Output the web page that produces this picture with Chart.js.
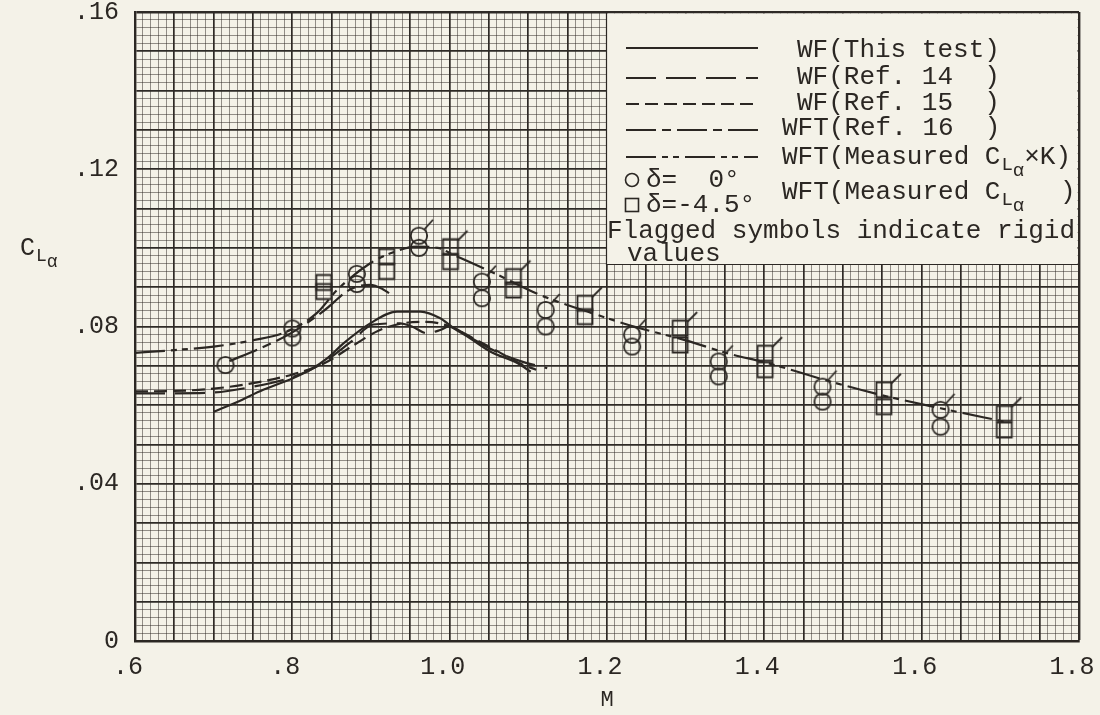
<!DOCTYPE html>
<html>
<head>
<meta charset="utf-8">
<title>CLa vs M</title>
<script src="https://cdn.jsdelivr.net/npm/chart.js@4.4.1/dist/chart.umd.min.js"></script>
<style>
  html, body { margin: 0; padding: 0; background: #f4f2e8; }
  #wrap { width: 1100px; height: 715px; }
</style>
</head>
<body>
<div id="wrap"><canvas id="myChart" width="1100" height="715"></canvas></div>
<script>
// curves: Mach number and CL_alpha
var thisTestM  = [0.700, 0.730, 0.763, 0.800, 0.823, 0.845, 0.865, 0.899, 0.933, 0.963, 0.988, 1.005, 1.026, 1.052, 1.086, 1.103];
var thisTestCL = [0.0583, 0.0608, 0.0639, 0.0668, 0.0690, 0.0720, 0.0757, 0.0808, 0.0838, 0.0838, 0.0821, 0.0796, 0.0770, 0.0736, 0.0707, 0.0685];

var ref14M  = [0.600, 0.650, 0.700, 0.745, 0.790, 0.831, 0.874, 0.903, 0.937, 0.952, 0.971, 0.988, 0.999, 1.026, 1.055, 1.090, 1.124];
var ref14CL = [0.0630, 0.0630, 0.0632, 0.0645, 0.0665, 0.0698, 0.0760, 0.0805, 0.0808, 0.0800, 0.0783, 0.0791, 0.0800, 0.0772, 0.0740, 0.0712, 0.0694];

var ref15M  = [0.600, 0.650, 0.700, 0.750, 0.800, 0.840, 0.880, 0.910, 0.940, 0.970, 1.000, 1.030, 1.060, 1.090, 1.110];
var ref15CL = [0.0635, 0.0636, 0.0642, 0.0656, 0.0678, 0.0706, 0.0755, 0.0790, 0.0808, 0.0812, 0.0800, 0.0770, 0.0738, 0.0705, 0.0690];

var ref16M  = [0.720, 0.760, 0.800, 0.840, 0.874, 0.899, 0.915, 0.929];
var ref16CL = [0.0712, 0.0745, 0.0785, 0.0840, 0.0895, 0.0906, 0.0895, 0.0876];

var measKM  = [0.600, 0.650, 0.700, 0.750, 0.793, 0.831, 0.857, 0.899, 0.930, 0.958, 0.985, 1.005, 1.052, 1.120, 1.175, 1.234, 1.298, 1.353, 1.404, 1.484, 1.548, 1.624, 1.705];
var measKCL = [0.0733, 0.0740, 0.0749, 0.0765, 0.0787, 0.0834, 0.0893, 0.0961, 0.0990, 0.1003, 0.1000, 0.0982, 0.0940, 0.0876, 0.0838, 0.0800, 0.0766, 0.0732, 0.0707, 0.0660, 0.0626, 0.0592, 0.0558];

// test points, delta = 0 deg (circles) and delta = -4.5 deg (squares)
var circleM        = [0.715, 0.800, 0.882, 0.961, 1.041, 1.122, 1.232, 1.342, 1.474, 1.624];
var circleMeasured = [0.0702, 0.0772, 0.0908, 0.1000, 0.0872, 0.0800, 0.0749, 0.0673, 0.0609, 0.0545];
var circleRigid    = [null, 0.0795, 0.0934, 0.1031, 0.0914, 0.0842, 0.0779, 0.0711, 0.0647, 0.0588];

var squareM        = [0.840, 0.920, 1.001, 1.081, 1.172, 1.293, 1.401, 1.552, 1.705];
var squareMeasured = [0.0889, 0.0940, 0.0965, 0.0893, 0.0825, 0.0753, 0.0690, 0.0596, 0.0537];
var squareRigid    = [0.0912, 0.0978, 0.1003, 0.0927, 0.0859, 0.0796, 0.0732, 0.0639, 0.0579];

// rigid points above this Mach number carry a flag
var flagFromM = 0.95;

var xTickLabels = [".6", ".8", "1.0", "1.2", "1.4", "1.6", "1.8"];
var yTickLabels = ["0", ".04", ".08", ".12", ".16"];

var ink = "#2b2723";
var paper = "#f4f2e8";
var mono = '"Liberation Mono", "DejaVu Sans Mono", monospace';

function pts(xs, ys) {
    var out = [];
    for (var i = 0; i < xs.length; i++) {
        if (ys[i] !== null) out.push({ x: xs[i], y: ys[i] });
    }
    return out;
}

// symbol pictures used as point styles
function symbol(shape, flagged) {
    var c = document.createElement("canvas");
    c.width = 44; c.height = 44;
    var g = c.getContext("2d");
    g.strokeStyle = ink;
    g.lineWidth = 1.8;
    g.beginPath();
    if (shape === "circle") {
        g.arc(22, 22, 8.2, 0, Math.PI * 2);
    } else {
        g.rect(14.5, 14.5, 15, 15);
    }
    g.stroke();
    if (flagged) {
        g.beginPath();
        g.moveTo(shape === "circle" ? 27 : 29, 16);
        g.lineTo(shape === "circle" ? 36 : 39, 6);
        g.stroke();
    }
    return c;
}
var circlePlain = symbol("circle", false);
var circleFlag = symbol("circle", true);
var squarePlain = symbol("square", false);
var squareFlag = symbol("square", true);

var curves = [
    { label: "WF(This test)", m: thisTestM, cl: thisTestCL, dash: [] },
    { label: "WF(Ref. 14  )", m: ref14M, cl: ref14CL, dash: [30, 10] },
    { label: "WF(Ref. 15  )", m: ref15M, cl: ref15CL, dash: [13, 6] },
    { label: "WFT(Ref. 16  )", m: ref16M, cl: ref16CL, dash: [30, 6, 9, 6] },
    { label: "WFT(Measured CLaxK)", m: measKM, cl: measKCL, dash: [30, 6, 6, 5, 6, 6] }
];

var datasets = [];
curves.forEach(function (c) {
    datasets.push({
        label: c.label,
        data: pts(c.m, c.cl),
        showLine: true,
        borderColor: ink,
        borderWidth: 2.2,
        borderDash: c.dash,
        cubicInterpolationMode: "monotone",
        pointRadius: 0,
        fill: false
    });
});

function symbolSet(label, xs, ys, plain, flag, canFlag) {
    return {
        label: label,
        data: pts(xs, ys),
        showLine: false,
        pointRadius: 8,
        pointStyle: function (ctx) {
            var p = ctx.raw;
            return canFlag && p && p.x > flagFromM ? flag : plain;
        }
    };
}
datasets.push(symbolSet("d=0 measured", circleM, circleMeasured, circlePlain, circleFlag, false));
datasets.push(symbolSet("d=0 rigid", circleM, circleRigid, circlePlain, circleFlag, true));
datasets.push(symbolSet("d=-4.5 measured", squareM, squareMeasured, squarePlain, squareFlag, false));
datasets.push(symbolSet("d=-4.5 rigid", squareM, squareRigid, squarePlain, squareFlag, true));

// C with subscript L alpha
function drawCLa(ctx, x, y, size) {
    ctx.font = size + "px " + mono;
    ctx.fillText("C", x, y);
    x += ctx.measureText("C").width + 1;
    var s = Math.round(size * 0.72);
    ctx.font = s + "px " + mono;
    ctx.fillText("L", x, y + size * 0.32);
    x += ctx.measureText("L").width;
    ctx.fillText("\u03b1", x, y + size * 0.55);
    x += ctx.measureText("\u03b1").width;
    ctx.font = size + "px " + mono;
    return x;
}

var boxLegend = {
    id: "boxLegend",
    afterDraw: function (chart) {
        var ctx = chart.ctx;
        var a = chart.chartArea;
        ctx.save();

        // y axis title
        ctx.fillStyle = ink;
        ctx.textBaseline = "middle";
        ctx.textAlign = "left";
        drawCLa(ctx, 20, 248, 25);

        // legend box in the upper right corner
        var bx = 606, by = 264;
        ctx.fillStyle = paper;
        ctx.fillRect(bx, a.top + 1.5, a.right - bx - 1.5, by - a.top - 1.5);
        ctx.strokeStyle = ink;
        ctx.lineWidth = 1.2;
        ctx.beginPath();
        ctx.moveTo(bx + 0.5, a.top);
        ctx.lineTo(bx + 0.5, by + 0.5);
        ctx.lineTo(a.right, by + 0.5);
        ctx.stroke();

        var rows = [48, 78, 104, 130, 157];
        var textX = [797, 797, 797, 782, 782];
        ctx.lineWidth = 2.2;
        curves.forEach(function (c, i) {
            ctx.setLineDash(c.dash);
            ctx.beginPath();
            ctx.moveTo(626, rows[i]);
            ctx.lineTo(758, rows[i]);
            ctx.stroke();
        });
        ctx.setLineDash([]);

        ctx.fillStyle = ink;
        ctx.font = "26px " + mono;
        ctx.fillText("WF(This test)", textX[0], rows[0] + 2);
        ctx.fillText("WF(Ref. 14  )", textX[1], rows[1] - 1);
        ctx.fillText("WF(Ref. 15  )", textX[2], rows[2] - 1);
        ctx.fillText("WFT(Ref. 16  )", textX[3], rows[3] - 2);
        ctx.fillText("WFT(Measured ", textX[4], rows[4]);
        var x = textX[4] + ctx.measureText("WFT(Measured ").width;
        x = drawCLa(ctx, x, rows[4], 26);
        ctx.fillText("\u00d7K)", x, rows[4]);

        // symbol keys
        ctx.lineWidth = 1.6;
        ctx.beginPath();
        ctx.arc(632, 180, 6.5, 0, Math.PI * 2);
        ctx.stroke();
        ctx.strokeRect(625.5, 198.5, 13, 13);
        ctx.fillText("\u03b4=  0\u00b0", 646, 180);
        ctx.fillText("\u03b4=-4.5\u00b0", 646, 205);

        ctx.fillText("WFT(Measured ", 782, 192);
        drawCLa(ctx, 782 + ctx.measureText("WFT(Measured ").width, 192, 26);
        ctx.fillText(")", 1060, 192);

        ctx.fillText("Flagged symbols indicate rigid", 607, 231);
        ctx.fillText("values", 627, 254);
        ctx.restore();
    }
};

function xMajor(v) { return Math.round(v * 100) % 5 === 0; }
function yMajor(v) { return Math.round(v * 1000) % 10 === 0; }

var myChart = new Chart("myChart", {
    type: "scatter",
    data: { datasets: datasets },
    plugins: [boxLegend],
    options: {
        responsive: false,
        animation: false,
        devicePixelRatio: 1,
        events: [],
        layout: { padding: { left: 0, right: 21, top: 12, bottom: 0 } },
        plugins: {
            legend: { display: false },
            tooltip: { enabled: false }
        },
        scales: {
            x: {
                type: "linear",
                min: 0.6,
                max: 1.8,
                afterFit: function (s) {
                    s.height = 74;
                    s.paddingLeft = 0; s.paddingRight = 0;
                },
                ticks: {
                    stepSize: 0.01,
                    autoSkip: false,
                    maxRotation: 0,
                    padding: 11,
                    labelOffset: -7,
                    color: ink,
                    font: { family: mono, size: 25 },
                    callback: function (v) {
                        var k = Math.round(v * 100);
                        if (k % 20 !== 0) return "";
                        return xTickLabels[(k - 60) / 20];
                    }
                },
                grid: {
                    drawTicks: false,
                    color: function (c) { return xMajor(c.tick.value) ? "#2e2a26" : "rgba(45,40,36,0.5)"; },
                    lineWidth: function (c) {
                        var k = Math.round(c.tick.value * 100);
                        if (k === 180) return 2.4;
                        return k % 5 === 0 ? 1.7 : 1;
                    }
                },
                border: { color: ink, width: 2.4 },
                title: {
                    display: true,
                    text: "M",
                    color: ink,
                    font: { family: mono, size: 22 },
                    padding: { top: 0, bottom: 2 }
                }
            },
            y: {
                min: 0,
                max: 0.16,
                afterFit: function (s) {
                    s.width = 135;
                    s.paddingTop = 0; s.paddingBottom = 0;
                },
                ticks: {
                    stepSize: 0.002,
                    autoSkip: false,
                    padding: 16,
                    color: ink,
                    font: { family: mono, size: 25 },
                    callback: function (v) {
                        var k = Math.round(v * 1000);
                        if (k % 40 !== 0) return "";
                        return yTickLabels[k / 40];
                    }
                },
                grid: {
                    drawTicks: false,
                    color: function (c) { return yMajor(c.tick.value) ? "#2e2a26" : "rgba(45,40,36,0.5)"; },
                    lineWidth: function (c) {
                        var k = Math.round(c.tick.value * 1000);
                        if (k === 160) return 2.4;
                        return k % 10 === 0 ? 1.7 : 1;
                    }
                },
                border: { color: ink, width: 2.4 }
            }
        }
    }
});
</script>
</body>
</html>
